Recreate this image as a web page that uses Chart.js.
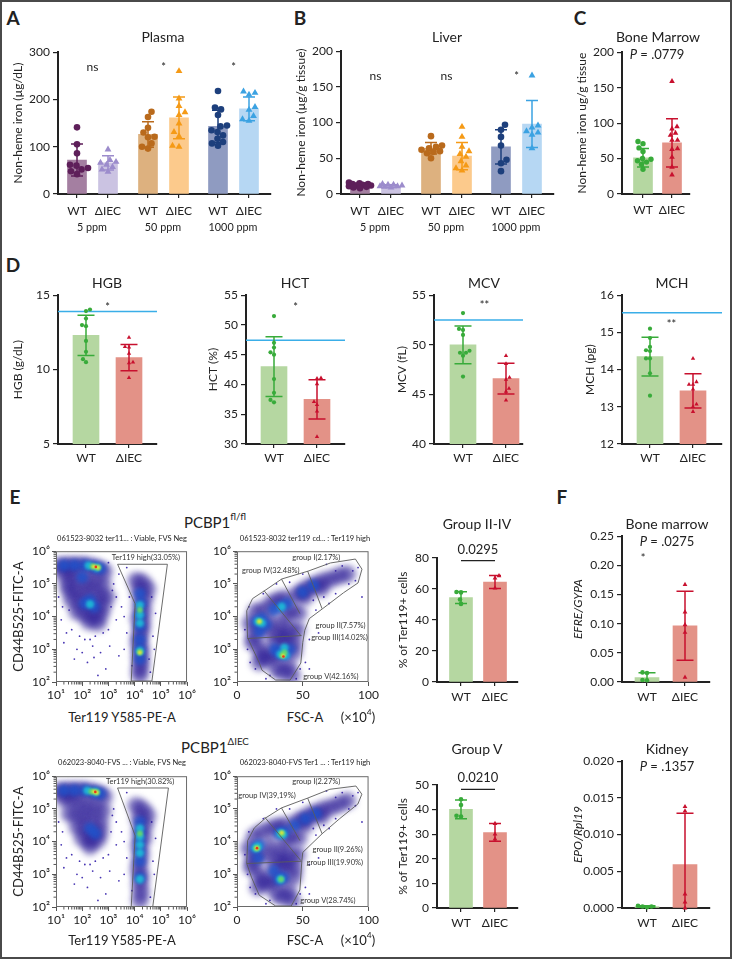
<!DOCTYPE html>
<html><head><meta charset="utf-8">
<script src="https://cdn.jsdelivr.net/npm/chart.js@4.4.1/dist/chart.umd.min.js"></script>
<style>
html,body{margin:0;padding:0;}
body{width:732px;height:959px;position:relative;overflow:hidden;background:#fff;font-family:Lato,"Open Sans","DejaVu Sans",sans-serif;color:#222;}
#frame{position:absolute;left:0;top:0;width:728px;height:955px;border:2px solid #4a4a4a;pointer-events:none;}
canvas{position:absolute;}
.t{position:absolute;white-space:nowrap;transform:translate(-50%,-50%);line-height:1;}
sup{font-size:65%;vertical-align:top;position:relative;top:-0.3em;}
</style></head><body><div id="frame"></div>
<script>
// ================= DATA =================
const genotypeLabels = ['WT', 'ΔIEC'];
const doseLabels = ['5 ppm', '50 ppm', '1000 ppm'];

// A: Plasma non-heme iron (µg/dL)
const plasmaMean = [72, 66, 126, 161, 143, 180];
const plasmaSD   = [34, 15, 27, 44, 34, 25];
const plasma5WT    = [141, 105, 86, 62, 60, 55, 52, 48, 42];
const plasma5KO    = [94, 72, 68, 66, 62, 57, 52, 47];
const plasma50WT   = [174, 163, 140, 130, 121, 120, 107, 100, 96];
const plasma50KO   = [260, 202, 186, 173, 167, 149, 131, 122, 102, 100];
const plasma1000WT = [218, 183, 179, 167, 145, 143, 135, 131, 124, 117, 110, 107, 102];
const plasma1000KO = [217, 214, 210, 184, 178, 165, 158, 155];
const plasmaSig = ['ns', '*', '*'];
const plasmaSigY = [268, 272, 272];

// B: Liver non-heme iron (µg/g tissue)
const liverMean = [12, 11, 64, 53, 66, 98];
const liverSD   = [3, 2, 8, 19, 24, 33];
const liver5WT    = [16, 15, 14, 14, 13, 12, 12, 11, 10, 9, 8];
const liver5KO    = [14, 13, 13, 12, 11, 11, 10, 9];
const liver50WT   = [81, 68, 66, 64, 62, 60, 59, 57, 50];
const liver50KO   = [94, 80, 66, 60, 56, 52, 46, 40, 36, 33];
const liver1000WT = [97, 90, 80, 68, 48, 43, 32];
const liver1000KO = [166, 96, 93, 88, 86, 83, 64];
const liverSig = ['ns', 'ns', '*'];
const liverSigY = [165, 165, 168];

// C: Bone marrow non-heme iron
const bmMean = [51, 72];
const bmSD = [13, 34];
const bmWT = [74, 71, 65, 60, 50, 49, 47, 45, 42, 35];
const bmKO = [159, 95, 92, 86, 83, 76, 76, 64, 63, 52, 38, 27];

// D: blood indices
const hgbMean = [12.3, 10.8], hgbSD = [1.35, 0.88];
const hgbWT = [14.04, 13.93, 13.43, 12.99, 12.92, 11.93, 11.2, 10.7, 10.5];
const hgbKO = [12.16, 11.53, 11.5, 11.08, 10.5, 10.45, 9.45];
const hctMean = [43.0, 37.5], hctSD = [5.0, 3.3];
const hctWT = [51.5, 47.0, 46.2, 45.4, 45.0, 40.9, 38.6, 37.4, 37.0];
const hctKO = [41.1, 41.0, 40.1, 37.1, 36.6, 35.5, 31.2];
const mcvMean = [50.0, 46.6], mcvSD = [1.9, 1.55];
const mcvWT = [53.2, 51.6, 51.5, 51.0, 49.4, 49.2, 49.2, 48.9, 46.8];
const mcvKO = [48.9, 48.1, 46.7, 46.5, 45.6, 45.3, 44.4];
const mchMean = [14.35, 13.43], mchSD = [0.52, 0.46];
const mchWT = [15.1, 14.85, 14.61, 14.52, 14.5, 14.3, 14.3, 13.9, 13.3];
const mchKO = [14.3, 13.67, 13.6, 13.6, 13.47, 13.07, 13.0, 12.87];
const normalRef = { HGB: 13.9, HCT: 47.45, MCV: 52.5, MCH: 15.53 };
const bloodSig = { HGB: ['*', 14.33], HCT: ['*', 53.3], MCV: ['**', 54.2], MCH: ['**', 15.28] };

// E: erythroid subsets (% of Ter119+ cells)
const g24Mean = [54.5, 64.5], g24SD = [3.8, 4.2];
const g24WT = [58.1, 57.8, 53.2, 50.4];
const g24KO = [68.5, 67.0, 60.5];
const g5Mean = [40.1, 30.7], g5SD = [3.8, 3.6];
const g5WT = [44.2, 41.9, 37.5, 37.2];
const g5KO = [34.3, 30.0, 28.0];
const g24P = '0.0295', g5P = '0.0210';

// F: qPCR
const efreMean = [0.0075, 0.0965], efreSD = [0.0085, 0.059];
const efreWT = [0.0165, 0.0155, 0.0035, 0.003];
const efreKO = [0.167, 0.120, 0.098, 0.085, 0.008];
const epoMean = [0.0002, 0.0059], epoSD = [0.0001, 0.0070];
const epoWT = [0.0003, 0.0002, 0.0001, 0.0002];
const epoKO = [0.0138, 0.0132, 0.0019, 0.0008, 0.0];

// Flow cytometry density sketches: [x (log10 for Ter119 axis, ×10^4 for FSC), log10 CD44, density level]
const flLeftDensity = [
 [1.1,5.55,0],[1.35,5.56,0],[1.6,5.56,0],[1.85,5.56,0],[2.1,5.56,0],[2.35,5.52,0],[2.6,5.48,0],[2.85,5.38,0],
 [1.3,5.3,0],[1.6,5.25,0],[1.9,5.15,0],[2.2,5.1,0],[2.5,5.08,0],[2.8,5.0,0],[1.45,5.0,0],
 [1.5,4.8,0],[1.8,4.8,0],[2.1,4.75,0],[2.4,4.75,0],[2.7,4.65,0],[2.95,4.6,0],
 [1.6,4.5,0],[1.9,4.45,0],[2.2,4.4,0],[2.5,4.35,0],[2.8,4.3,0],[1.8,4.15,0],[2.1,4.1,0],[2.4,4.05,0],[2.7,4.05,0],[2.25,3.85,0],[2.6,3.8,0],
 [4.05,5.1,0],[4.3,5.05,0],[4.5,4.85,0],[4.15,4.75,0],[4.4,4.55,0],[4.2,4.35,0],[4.35,4.15,0],[4.15,3.95,0],[4.3,3.8,0],
 [4.25,3.6,0],[4.2,3.4,0],[4.15,3.2,0],[4.25,3.0,0],[4.2,2.8,0],[4.25,2.6,0],[4.2,2.4,0],[4.2,2.2,0],
 [1.3,5.56,1],[1.7,5.57,1],[2.1,5.57,1],[2.45,5.52,1],[2.7,5.47,1],[2.0,5.2,1],[2.3,4.5,1],[2.1,4.4,1],[2.45,4.3,1],
 [4.2,4.7,1],[4.25,4.4,1],[4.2,4.05,1],[4.2,3.7,1],[4.2,3.3,1],[4.2,3.0,1],[4.2,2.7,1],
 [2.25,5.56,2],[2.55,5.5,2],[2.3,4.38,2],[4.2,4.35,2],[4.2,4.05,2],[4.2,3.8,2],[4.2,2.95,2],
 [2.4,5.53,3],[2.6,5.5,3],[4.2,2.92,3],[4.2,4.2,3],
 [2.45,5.53,4],[2.6,5.5,4],[4.2,2.9,4],
 [2.52,5.52,5],
 [1.3,3.2,-1],[1.8,3.0,-1],[2.2,2.6,-1],[2.5,3.4,-1],[2.7,2.9,-1],[3.0,3.6,-1],[3.3,3.9,-1],[3.5,4.3,-1],[3.6,3.0,-1],
 [3.2,5.0,-1],[3.0,5.65,-1],[2.9,2.4,-1],[2.6,2.2,-1],[1.6,3.6,-1],[2.1,3.3,-1],[3.4,2.8,-1],[4.7,3.4,-1],[4.8,4.1,-1],
 [4.6,2.3,-1],[1.1,4.6,-1],[1.2,3.9,-1],[3.7,5.5,-1],[3.9,2.5,-1],[3.3,4.6,-1],[2.4,3.1,-1],[1.5,4.2,-1],
 [1.4,3.5,-1],[1.9,3.4,-1],[2.3,3.3,-1],[2.8,3.5,-1],[3.1,4.3,-1],[3.15,4.8,-1],[3.4,5.3,-1],[3.6,4.0,-1],[3.7,3.5,-1],
 [2.0,2.9,-1],[1.7,2.7,-1],[2.45,2.75,-1],[3.05,3.1,-1],[4.65,4.6,-1],[4.75,3.0,-1],[4.55,2.7,-1],[1.25,4.3,-1],[3.8,4.6,-1]
];
const flRightDensity = [
 [10,3.8,0],[13,3.4,0],[14,4.15,0],[18,3.0,0],[20,4.2,0],[22,3.6,0],[24,2.7,0],[26,4.4,0],[28,3.2,0],[30,2.4,0],
 [31,4.5,0],[33,3.7,0],[34,2.9,0],[36,4.55,0],[38,3.3,0],[39,2.5,0],[41,4.2,0],[43,2.9,0],[45,4.65,0],[46,3.6,0],
 [50,4.8,0],[55,4.9,0],[60,5.0,0],[66,5.1,0],[72,5.15,0],[78,5.25,0],[84,5.3,0],[17,2.6,0],[42,2.2,0],[12,3.2,0],[47,4.1,0],
 [16,3.7,0],[25,3.9,0],[30,3.5,0],[35,3.3,0],[40,3.6,0],[29,2.8,0],[35,2.3,0],[44,3.2,0],[20,2.8,0],[37,4.0,0],[52,4.6,0],[64,4.85,0],
 [15,3.85,1],[19,3.95,1],[22,3.75,1],[33,4.3,1],[38,4.4,1],[32,2.9,1],[36,2.85,1],[29,3.0,1],[40,3.0,1],[50,4.75,1],[58,4.95,1],[17,3.55,1],[28,4.2,1],
 [16,3.85,2],[19,3.8,2],[34,4.3,2],[33,2.85,2],[37,2.82,2],[36,3.05,2],
 [17,3.85,3],[34.5,2.82,3],[36,2.9,3],
 [17,3.85,4],[35,2.8,4],
 [35.3,2.78,5],
 [8,3.0,-1],[10,2.6,-1],[14,2.4,-1],[22,2.1,-1],[45,2.1,-1],[52,2.6,-1],[55,3.3,-1],[60,4.2,-1],[75,4.7,-1],[88,5.4,-1],
 [85,5.0,-1],[92,5.5,-1],[68,5.6,-1],[50,5.3,-1],[30,5.0,-1],[6,3.6,-1],[55,2.4,-1],[95,4.6,-1],[62,3.5,-1],[70,4.4,-1],
 [80,5.55,-1],[75,5.4,-1],[90,5.1,-1],[58,4.5,-1],[66,4.6,-1],[48,2.4,-1],[25,2.2,-1],[9,4.3,-1],[40,5.05,-1],[20,4.7,-1]
];
const koLeftDensity = [
 [1.1,5.55,0],[1.35,5.56,0],[1.6,5.56,0],[1.85,5.56,0],[2.1,5.56,0],[2.35,5.52,0],[2.6,5.48,0],[2.85,5.38,0],
 [1.3,5.3,0],[1.6,5.25,0],[1.9,5.15,0],[2.2,5.1,0],[2.5,5.05,0],[2.8,4.95,0],
 [1.5,4.85,0],[1.8,4.8,0],[2.1,4.75,0],[2.4,4.7,0],[2.7,4.6,0],
 [1.8,4.45,0],[2.1,4.4,0],[2.4,4.3,0],[2.7,4.3,0],[2.0,4.1,0],[2.3,4.05,0],[2.6,4.05,0],[2.3,3.85,0],
 [4.05,5.1,0],[4.3,5.0,0],[4.5,4.8,0],[4.15,4.7,0],[4.4,4.5,0],[4.2,4.3,0],[4.35,4.1,0],[4.15,3.9,0],
 [4.25,3.65,0],[4.2,3.4,0],[4.15,3.15,0],[4.25,2.95,0],[4.2,2.7,0],[4.25,2.45,0],[4.2,2.2,0],
 [1.3,5.56,1],[1.7,5.57,1],[2.1,5.57,1],[2.45,5.52,1],[2.7,5.47,1],[2.3,4.4,1],[2.5,4.25,1],
 [4.2,4.6,1],[4.2,4.3,1],[4.2,4.0,1],[4.2,3.7,1],[4.2,3.4,1],[4.2,2.9,1],
 [2.2,5.56,2],[2.5,5.52,2],[4.2,4.4,2],[4.2,4.15,2],[4.2,3.9,2],[4.2,3.65,2],[4.2,2.85,2],
 [2.35,5.53,3],[2.55,5.51,3],[4.2,4.25,3],
 [2.45,5.53,4],[2.55,5.5,4],
 [2.5,5.52,5],
 [1.3,3.2,-1],[1.8,3.0,-1],[2.2,2.6,-1],[2.5,3.4,-1],[2.7,2.9,-1],[3.0,3.6,-1],[3.3,3.9,-1],[3.5,4.3,-1],[3.6,3.0,-1],
 [3.2,5.0,-1],[2.9,2.4,-1],[2.6,2.2,-1],[1.6,3.6,-1],[2.1,3.3,-1],[3.4,2.8,-1],[4.7,3.4,-1],[4.8,4.1,-1],
 [4.6,2.3,-1],[1.1,4.6,-1],[1.2,3.9,-1],[3.7,5.5,-1],[3.9,2.5,-1],[3.3,4.6,-1],[2.4,3.1,-1],
 [1.4,3.5,-1],[1.9,3.4,-1],[2.3,3.3,-1],[2.8,3.5,-1],[3.1,4.3,-1],[3.15,4.8,-1],[3.6,4.0,-1],[3.7,3.5,-1],
 [2.0,2.9,-1],[1.7,2.7,-1],[3.05,3.1,-1],[4.65,4.6,-1],[4.75,3.0,-1],[1.25,4.3,-1]
];
const koRightDensity = [
 [9,3.8,0],[12,3.4,0],[13,4.15,0],[17,3.0,0],[19,4.3,0],[22,3.6,0],[24,2.7,0],[26,4.4,0],[28,3.2,0],[30,2.4,0],
 [31,4.45,0],[33,3.7,0],[34,2.9,0],[36,4.5,0],[38,3.3,0],[39,2.5,0],[41,4.2,0],[43,2.9,0],[45,4.6,0],[46,3.6,0],
 [50,4.7,0],[55,4.8,0],[60,4.9,0],[66,5.0,0],[72,5.05,0],[78,5.15,0],[84,5.25,0],[16,2.6,0],[42,2.2,0],[11,3.2,0],[47,4.1,0],
 [15,3.6,0],[25,3.9,0],[30,3.5,0],[35,3.3,0],[40,3.6,0],[29,2.8,0],[35,2.3,0],[44,3.2,0],[20,2.8,0],[37,4.0,0],[52,4.5,0],[64,4.75,0],
 [14,3.8,1],[17,3.9,1],[32,4.25,1],[36,4.3,1],[32,2.85,1],[35,2.9,1],[44,4.5,1],[52,4.7,1],[60,4.85,1],[16,3.5,1],[28,3.1,1],
 [14,3.8,2],[16,3.85,2],[33,4.25,2],[35,4.22,2],[33,2.85,2],
 [15,3.8,3],[34,4.25,3],[33.5,2.85,3],
 [15,3.8,4],[34,4.27,4],
 [15.2,3.8,5],
 [8,3.0,-1],[10,2.6,-1],[14,2.4,-1],[22,2.1,-1],[45,2.1,-1],[52,2.6,-1],[55,3.3,-1],[60,4.2,-1],[75,4.7,-1],[88,5.4,-1],
 [85,5.0,-1],[92,5.5,-1],[68,5.55,-1],[50,5.2,-1],[30,5.0,-1],[6,3.6,-1],[55,2.4,-1],[95,4.6,-1],[62,3.5,-1],[70,4.4,-1],
 [80,5.5,-1],[75,5.35,-1],[90,5.1,-1],[58,4.4,-1],[66,4.5,-1],[48,2.4,-1],[25,2.2,-1],[9,4.3,-1],[40,5.0,-1],[20,4.7,-1]
];
// gates
const flLeftGate = [[3.35,5.6],[5.25,5.6],[4.66,2.03],[3.87,2.03],[4.02,4.39],[3.35,5.6]];
const koLeftGate = [[3.35,5.64],[5.29,5.64],[4.69,2.0],[3.87,2.0],[4.02,4.18],[3.35,5.64]];
const flRightGate = [[7.4,4.18],[11.8,4.55],[22,4.82],[34,5.15],[54,5.39],[71,5.64],[90,5.76],[95,5.45],[92,5.03],[81,4.73],[65,4.24],[55,3.94],[51.5,3.58],[50,3.21],[48.5,2.58],[40.4,2.06],[29.4,2.06],[19,2.36],[17,2.58],[8,3.36],[7.4,4.18]];
const flRightSplits = [[[8,3.33],[49,3.42]], [[20.6,4.79],[48.5,3.42]], [[33.8,5.15],[47.8,4.09]], [[53.7,5.39],[64.7,4.24]]];
const koRightGate = [[8.1,4.03],[13.2,4.42],[22,4.73],[33.8,5.03],[53.7,5.33],[70.6,5.6],[90.4,5.7],[94.9,5.45],[91.9,5.15],[78,4.7],[64.7,4.24],[50,3.67],[49.3,3.42],[47.8,2.52],[41.2,2.03],[29.4,2.03],[16.9,2.36],[11,2.91],[7.4,3.33],[8.1,4.03]];
const koRightSplits = [[[7.4,3.33],[49,3.4]], [[21,4.75],[48.5,3.42]], [[33.8,5.03],[47.8,4.03]], [[53.7,5.33],[64.7,4.24]]];
// gate labels [text, x, log10 y]
const flLeftLabels = [['Ter119 high(33.05%)', 4.43, 5.82]];
const koLeftLabels = [['Ter119 high(30.82%)', 4.21, 5.85]];
const flRightLabels = [['group I(2.17%)',60.3,5.82],['group IV(32.48%)',25.7,5.42],['group II(7.57%)',78.7,3.73],['group III(14.02%)',77.9,3.36],['group V(42.16%)',71.3,2.18]];
const koRightLabels = [['group I(2.27%)',60.3,5.85],['group IV(39,19%)',22.8,5.42],['group II(9.26%)',76.5,3.76],['group III(19.90%)',74.3,3.36],['group V(28.74%)',69.1,2.21]];

// ================= STYLE / HELPERS =================
const FONT = 'Lato, "Open Sans", "DejaVu Sans", sans-serif';
Chart.defaults.font.family = FONT;
Chart.defaults.color = '#222';
const AX = '#222';
const SUP = {1:'¹',2:'²',3:'³',4:'⁴',5:'⁵',6:'⁶'};
const COL = {
  wt5:{fill:'#a47fa1',pt:'#5e1f5a'}, ko5:{fill:'#cbc3e2',pt:'#9c8ccc'},
  wt50:{fill:'#ddb17f',pt:'#b96a1c'}, ko50:{fill:'#fcca8c',pt:'#f59a16'},
  wt1000:{fill:'#8f9bc1',pt:'#1d3f7c'}, ko1000:{fill:'#b6d7f3',pt:'#3ba2e2'},
  wt:{fill:'#b5d7a1',pt:'#38ab3a'}, ko:{fill:'#e39287',pt:'#c8102e'}
};
const DENS = [
  {level:-1,r:0.9,color:'rgba(50,30,170,0.9)',order:12,blur:0},
  {level:0,r:8.5,color:'rgba(44,28,150,0.6)',order:11,blur:3},
  {level:1,r:6,color:'rgba(30,85,205,0.78)',order:10,blur:2.2},
  {level:2,r:4.2,color:'rgba(30,190,215,0.9)',order:9,blur:1.6},
  {level:3,r:3,color:'rgba(100,215,110,0.95)',order:8,blur:1.1},
  {level:4,r:2.1,color:'rgba(245,230,50,0.95)',order:7,blur:0.8},
  {level:5,r:1.3,color:'rgba(235,45,25,0.95)',order:6,blur:0.5}
];

function makeCanvas(l,t,w,h){
  const c=document.createElement('canvas');
  c.width=w;c.height=h;c.style.left=l+'px';c.style.top=t+'px';c.style.width=w+'px';c.style.height=h+'px';
  document.body.appendChild(c);return c;
}
function txt(html,x,y,size,st){
  const d=document.createElement('div');d.className='t';d.innerHTML=html;
  d.style.left=x+'px';d.style.top=y+'px';d.style.fontSize=size+'px';
  if(st)Object.assign(d.style,st);document.body.appendChild(d);
}
// deterministic beeswarm offsets (pixels) so markers don't overlap
function swarm(vals,ppu,r,maxOff){
  const order=vals.map((v,i)=>i).sort((a,b)=>vals[a]-vals[b]);
  const placed=[],off=vals.map(()=>0),d=2*r*0.95;let flip=1;
  for(const i of order){
    const y=vals[i]*ppu;let best=null;
    for(let c=0;c<=maxOff&&best===null;c+=0.5){
      for(const s of [flip,-flip]){const x=c*s;
        if(placed.every(p=>(p.x-x)**2+(p.y-y)**2>=d*d)){best=x;break;}}
    }
    if(best===null){let bd=-1;best=0;
      for(let c=-maxOff;c<=maxOff;c+=0.5){const md=Math.min(...placed.map(p=>Math.hypot(p.x-c,p.y-y)));if(md>bd){bd=md;best=c;}}}
    off[i]=best;placed.push({x:best,y});flip=-flip;
  }
  return off;
}

function barPanel(o){
  const padT=o.padT??10,padR=o.padR??6,xH=o.xH??24;
  const cv=makeCanvas(o.x0-o.yW,o.y0-padT,(o.x1-o.x0)+o.yW+padR,(o.y1-o.y0)+padT+xH);
  const ppu=(o.y1-o.y0)/(o.yMax-o.yMin);
  const ds=[{type:'bar',data:o.groups.map((g,i)=>({x:o.centers[i],y:g.mean})),backgroundColor:o.groups.map(g=>g.fill),barThickness:o.barW,borderWidth:0,order:5}];
  o.groups.forEach((g,i)=>{
    const off=swarm(g.pts,ppu,o.r,o.maxOff);const tri=g.shape==='triangle';
    ds.push({type:'scatter',data:g.pts.map((v,k)=>({x:o.centers[i]+off[k],y:v})),pointStyle:g.shape,
      pointRadius:tri?o.r*1.2:o.r,pointBackgroundColor:g.color,pointBorderColor:g.color,pointBorderWidth:0,order:1,clip:false});
  });
  const deco={id:'deco',
    afterDatasetDraw(chart,args){
      if(args.index!==0)return;
      const {ctx,scales:{x,y},chartArea:ca}=chart;ctx.save();
      if(o.refLine!=null){ctx.strokeStyle='#3aaee8';ctx.lineWidth=1.5;const py=y.getPixelForValue(o.refLine);
        ctx.beginPath();ctx.moveTo(ca.left,py);ctx.lineTo(ca.right,py);ctx.stroke();}
      o.groups.forEach((g,i)=>{
        const cx=x.getPixelForValue(o.centers[i]),hv=g.mean+g.sd,lv=g.mean-g.sd;
        const yh=y.getPixelForValue(hv),yl=y.getPixelForValue(Math.max(o.yMin,lv));
        ctx.strokeStyle=g.color;ctx.lineWidth=1.5;ctx.beginPath();
        ctx.moveTo(cx,yl);ctx.lineTo(cx,yh);
        ctx.moveTo(cx-o.capW/2,yh);ctx.lineTo(cx+o.capW/2,yh);
        if(lv>o.yMin){ctx.moveTo(cx-o.capW/2,yl);ctx.lineTo(cx+o.capW/2,yl);}
        ctx.stroke();
      });
      ctx.restore();
    },
    afterDraw(chart){
      const {ctx,scales:{x,y}}=chart;ctx.save();ctx.fillStyle='#222';ctx.textAlign='center';ctx.textBaseline='middle';
      (o.sig||[]).forEach(s=>{ctx.font=(s.t==='ns'?'12px ':'11px ')+FONT;
        ctx.fillText(s.t,x.getPixelForValue(s.x),y.getPixelForValue(s.y)+(s.t==='ns'?0:2));});
      if(o.bracket){const b=o.bracket,py=y.getPixelForValue(b.y);
        ctx.strokeStyle='#222';ctx.lineWidth=1.3;ctx.beginPath();
        ctx.moveTo(x.getPixelForValue(o.centers[0]),py);ctx.lineTo(x.getPixelForValue(o.centers[1]),py);ctx.stroke();
        ctx.font='13px '+FONT;ctx.fillText(b.text,(x.getPixelForValue(o.centers[0])+x.getPixelForValue(o.centers[1]))/2,y.getPixelForValue(b.ty));}
      ctx.restore();
    }};
  new Chart(cv,{type:'bar',data:{datasets:ds},options:{animation:false,responsive:false,events:[],
    layout:{padding:{top:padT,right:padR,left:0,bottom:0}},
    plugins:{legend:{display:false},tooltip:{enabled:false}},
    scales:{
      x:{type:'linear',offset:false,min:0,max:o.x1-o.x0,
        afterBuildTicks:s=>{s.ticks=o.centers.map(v=>({value:v}));},
        ticks:{autoSkip:false,maxRotation:0,padding:o.xPad??4,font:{size:12},callback:(v,i)=>o.xLabels[i]},
        grid:{offset:false,drawOnChartArea:false,drawTicks:true,tickLength:4,color:AX,lineWidth:1.2},
        border:{display:true,color:AX,width:2},afterFit:s=>{s.height=xH;}},
      y:{type:'linear',min:o.yMin,max:o.yMax,
        afterBuildTicks:s=>{s.ticks=o.yTicks.map(v=>({value:v}));},
        ticks:{padding:3,font:{size:12},callback:o.yFmt},
        grid:{drawOnChartArea:false,tickLength:5,color:AX,lineWidth:1.2},
        border:{display:true,color:AX,width:2},
        title:{display:true,text:o.yTitle,padding:0,font:{size:12,style:o.italic?'italic':'normal'}},
        afterFit:s=>{s.width=o.yW;}}
    }},plugins:[deco]});
}

function flowPanel(o){
  const padT=8,padR=8,xH=o.xH??26;
  const cv=makeCanvas(o.x0-o.yW,o.y0-padT,(o.x1-o.x0)+o.yW+padR,(o.y1-o.y0)+padT+xH);
  const X=v=>o.xLog?10**v:v;
  const pt=p=>({x:X(p[0]),y:10**p[1]});
  const ds=[];
  DENS.forEach(L=>{const pts=o.density.filter(p=>p[2]===L.level).map(pt);
    if(pts.length)ds.push({type:'scatter',data:pts,pointRadius:L.r,pointBackgroundColor:L.color,pointBorderWidth:0,order:L.order,blurPx:L.blur});});
  o.gates.forEach(g=>ds.push({type:'scatter',data:g.map(pt),showLine:true,borderColor:'#5a5a5a',borderWidth:0.9,pointRadius:0,fill:false,tension:0,order:1}));
  const frame={id:'frame',
    beforeDatasetDraw(chart,args){const b=chart.data.datasets[args.index].blurPx;if(b)chart.ctx.filter='blur('+b+'px)';},
    afterDatasetDraw(chart){chart.ctx.filter='none';},
    afterDraw(chart){
    const {ctx,chartArea:ca,scales:{x,y}}=chart;ctx.save();
    ctx.strokeStyle='#6a6a6a';ctx.lineWidth=1;ctx.strokeRect(ca.left+0.5,ca.top+0.5,ca.width-1,ca.height-1);
    ctx.strokeStyle='#555';ctx.beginPath();
    for(let k=2;k<6;k++)for(let m=2;m<10;m++){const py=y.getPixelForValue(m*10**k);ctx.moveTo(ca.left,py);ctx.lineTo(ca.left-2.5,py);}
    if(o.xLog)for(let k=1;k<6;k++)for(let m=2;m<10;m++){const px=x.getPixelForValue(m*10**k);ctx.moveTo(px,ca.bottom);ctx.lineTo(px,ca.bottom+2.5);}
    ctx.stroke();
    ctx.fillStyle='#333';ctx.font='7.5px '+FONT;ctx.textAlign='center';ctx.textBaseline='middle';
    o.labels.forEach(l=>ctx.fillText(l[0],x.getPixelForValue(X(l[1])),y.getPixelForValue(10**l[2])));
    ctx.restore();}};
  const xs=o.xLog?{type:'logarithmic',min:10,max:1e6,afterBuildTicks:s=>{s.ticks=[1,2,3,4,5,6].map(k=>({value:10**k}));},
      ticks:{callback:v=>'10'+SUP[Math.round(Math.log10(v))],font:{size:12},padding:2,maxRotation:0,autoSkip:false}}
    :{type:'linear',min:0,max:100,afterBuildTicks:s=>{s.ticks=[0,50,100].map(v=>({value:v}));},
      ticks:{callback:v=>String(v),font:{size:12},padding:2,maxRotation:0,autoSkip:false}};
  Object.assign(xs,{grid:{drawOnChartArea:false,tickLength:4,color:'#555'},border:{display:false},afterFit:s=>{s.height=xH;}});
  new Chart(cv,{type:'scatter',data:{datasets:ds},options:{animation:false,responsive:false,events:[],
    layout:{padding:{top:padT,right:padR,left:0,bottom:0}},
    plugins:{legend:{display:false},tooltip:{enabled:false}},
    scales:{x:xs,
      y:{type:'logarithmic',min:100,max:1e6,afterBuildTicks:s=>{s.ticks=[2,3,4,5,6].map(k=>({value:10**k}));},
        ticks:{callback:v=>'10'+SUP[Math.round(Math.log10(v))],font:{size:12},padding:2},
        grid:{drawOnChartArea:false,tickLength:4,color:'#555'},border:{display:false},
        title:{display:!!o.yTitle,text:o.yTitle||'',padding:0,font:{size:13}},
        afterFit:s=>{s.width=o.yW;}}}
  },plugins:[frame]});
}

// ================= BUILD =================
const pairX=[19,50,90,121,160,191];
const pairLabels=[0,1,2,3,4,5].map(i=>genotypeLabels[i%2]);
function groupsFrom(means,sds,ptsArr,cols){
  return means.map((m,i)=>({mean:m,sd:sds[i],pts:ptsArr[i],fill:cols[i].fill,color:cols[i].pt,shape:i%2?'triangle':'circle'}));
}
const doseCols=[COL.wt5,COL.ko5,COL.wt50,COL.ko50,COL.wt1000,COL.ko1000];
const pairCenter=k=>(pairX[2*k]+pairX[2*k+1])/2;

// A
barPanel({x0:58,x1:271,y0:52,y1:194,yW:47,yMin:0,yMax:300,yTicks:[0,100,200,300],yFmt:v=>String(v),
  yTitle:'Non-heme iron (µg/dL)',centers:pairX,xLabels:pairLabels,barW:19,r:3.3,maxOff:11,capW:12,xPad:6,xH:26,
  groups:groupsFrom(plasmaMean,plasmaSD,[plasma5WT,plasma5KO,plasma50WT,plasma50KO,plasma1000WT,plasma1000KO],doseCols),
  sig:plasmaSig.map((t,k)=>({t,x:pairCenter(k),y:plasmaSigY[k]}))});
// B
barPanel({x0:341,x1:554,y0:51,y1:194,yW:47,yMin:0,yMax:200,yTicks:[0,50,100,150,200],yFmt:v=>String(v),
  yTitle:'Non-heme iron (µg/g tissue)',centers:pairX,xLabels:pairLabels,barW:19,r:3.3,maxOff:11,capW:12,xPad:6,xH:26,
  groups:groupsFrom(liverMean,liverSD,[liver5WT,liver5KO,liver50WT,liver50KO,liver1000WT,liver1000KO],doseCols),
  sig:liverSig.map((t,k)=>({t,x:pairCenter(k),y:liverSigY[k]}))});
// C
barPanel({x0:622,x1:690,y0:52,y1:194,yW:47,yMin:0,yMax:200,yTicks:[0,50,100,150,200],yFmt:v=>String(v),
  yTitle:'Non-heme iron ug/g tissue',centers:[21,50],xLabels:genotypeLabels,barW:19,r:2.7,maxOff:10,capW:12,xPad:5,xH:26,
  groups:groupsFrom(bmMean,bmSD,[bmWT,bmKO],[COL.wt,COL.ko])});
// D
const dDefs=[
  {k:'HGB',x0:58,x1:157,yW:47,yMin:5,yMax:15,yTicks:[5,10,15],mean:hgbMean,sd:hgbSD,pts:[hgbWT,hgbKO],t:'HGB (g/dL)',c:[28,71]},
  {k:'HCT',x0:246,x1:345,yW:40,yMin:30,yMax:55,yTicks:[30,35,40,45,50,55],mean:hctMean,sd:hctSD,pts:[hctWT,hctKO],t:'HCT (%)',c:[28,71]},
  {k:'MCV',x0:434,x1:523,yW:39,yMin:40,yMax:55,yTicks:[40,45,50,55],mean:mcvMean,sd:mcvSD,pts:[mcvWT,mcvKO],t:'MCV (fL)',c:[29,72]},
  {k:'MCH',x0:622,x1:722,yW:39,yMin:12,yMax:16,yTicks:[12,13,14,15,16],mean:mchMean,sd:mchSD,pts:[mchWT,mchKO],t:'MCH (pg)',c:[28,71]}
];
dDefs.forEach(d=>barPanel({x0:d.x0,x1:d.x1,y0:295,y1:444,yW:d.yW,yMin:d.yMin,yMax:d.yMax,yTicks:d.yTicks,yFmt:v=>String(v),
  yTitle:d.t,centers:d.c,xLabels:genotypeLabels,barW:26,r:2.1,maxOff:14,capW:17,xPad:3,xH:24,padR:4,
  groups:groupsFrom(d.mean,d.sd,d.pts,[COL.wt,COL.ko]),refLine:normalRef[d.k],
  sig:[{t:bloodSig[d.k][0],x:(d.c[0]+d.c[1])/2,y:bloodSig[d.k][1]}]}));
// E bars
barPanel({x0:437,x1:518,y0:558,y1:682,yW:41,yMin:0,yMax:80,yTicks:[0,20,40,60,80],yFmt:v=>String(v),padT:18,
  yTitle:'% of Ter119+ cells',centers:[24,58],xLabels:genotypeLabels,barW:23,r:2.3,maxOff:9,capW:12,xPad:4,xH:24,
  groups:groupsFrom(g24Mean,g24SD,[g24WT,g24KO],[COL.wt,COL.ko]),bracket:{y:78.3,ty:85.3,text:g24P}});
barPanel({x0:437,x1:518,y0:785,y1:908,yW:41,yMin:0,yMax:50,yTicks:[0,10,20,30,40,50],yFmt:v=>String(v),padT:18,
  yTitle:'% of Ter119+ cells',centers:[24,58],xLabels:genotypeLabels,barW:23,r:2.3,maxOff:9,capW:12,xPad:4,xH:24,
  groups:groupsFrom(g5Mean,g5SD,[g5WT,g5KO],[COL.wt,COL.ko]),bracket:{y:48.2,ty:52.8,text:g5P}});
// F
barPanel({x0:622,x1:710,y0:536,y1:682,yW:51,yMin:0,yMax:0.25,yTicks:[0,0.05,0.1,0.15,0.2,0.25],yFmt:v=>v.toFixed(2),italic:true,
  yTitle:'EFRE/GYPA',centers:[25,63],xLabels:genotypeLabels,barW:24,r:2.3,maxOff:9,capW:17,xPad:4,xH:24,
  groups:groupsFrom(efreMean,efreSD,[efreWT,efreKO],[COL.wt,COL.ko])});
barPanel({x0:622,x1:710,y0:761,y1:908,yW:51,yMin:0,yMax:0.02,yTicks:[0,0.005,0.01,0.015,0.02],yFmt:v=>v.toFixed(3),italic:true,
  yTitle:'EPO/Rpl19',centers:[25,63],xLabels:genotypeLabels,barW:24,r:2.3,maxOff:9,capW:17,xPad:4,xH:24,
  groups:groupsFrom(epoMean,epoSD,[epoWT,epoKO],[COL.wt,COL.ko])});

// flow plots
flowPanel({x0:56,x1:190,y0:550,y1:682,yW:45,xLog:true,yTitle:'CD44B525-FITC-A',density:flLeftDensity,gates:[flLeftGate],labels:flLeftLabels});
flowPanel({x0:237,x1:373,y0:550,y1:682,yW:30,xLog:false,density:flRightDensity,gates:[flRightGate,...flRightSplits],labels:flRightLabels});
flowPanel({x0:56,x1:190,y0:775,y1:907,yW:45,xLog:true,yTitle:'CD44B525-FITC-A',density:koLeftDensity,gates:[koLeftGate],labels:koLeftLabels});
flowPanel({x0:237,x1:373,y0:775,y1:907,yW:30,xLog:false,density:koRightDensity,gates:[koRightGate,...koRightSplits],labels:koRightLabels});

// ================= TEXT =================
const B={fontWeight:'bold'};
txt('A',13,17,19,B);txt('B',300,17,19,B);txt('C',580,17,19,B);
txt('D',13,264,19,B);txt('E',15,496,19,B);txt('F',562,496,19,B);
txt('Plasma',163,37,14);txt('Liver',447,37,14);txt('Bone Marrow',658,37,14);
txt('<i>P</i> = .0779',657,54,13);
[[92,163,233],[375,446,516]].forEach(r=>r.forEach((x,i)=>txt(doseLabels[i],x,227,12,{transform:'translate(-50%,-50%) scaleX(0.9)'})));
txt('HGB',107,283,14);txt('HCT',295,283,14);txt('MCV',484,283,14);txt('MCH',672,283,14);
txt('PCBP1<sup>fl/fl</sup>',215,522,15);txt('PCBP1<sup>ΔIEC</sup>',215,747,15);
txt('061523-8032 ter11... : Viable, FVS Neg',122,539,7.5);txt('061523-8032 ter119 cd... : Ter119 high',305,539,7.5);
txt('062023-8040-FVS ... : Viable, FVS Neg',122,763,7.5);txt('062023-8040-FVS Ter1 ... : Ter119 high',305,763,7.5);
[717,940].forEach(y=>{txt('Ter119 Y585-PE-A',122,y,13);txt('FSC-A',305,y,13);txt('(×10<sup>4</sup>)',358,y,13);});
txt('Group II-IV',477,524,14);txt('Group V',477,749,14);
txt('Bone marrow',667,524,14);txt('Kidney',667,749,14);
txt('<i>P</i> = .0275',667,541,13);txt('*',643,557,11);txt('<i>P</i> = .1357',667,766,13);
</script></body></html>
